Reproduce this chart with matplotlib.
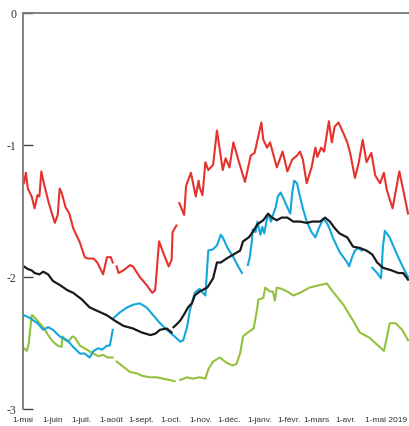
import numpy as np
import matplotlib
matplotlib.use("Agg")
import matplotlib.pyplot as plt
import matplotlib.transforms as mtransforms

nan = np.nan

# days since 1 May 2018 ; nan = gap in the series
month_ticks = [0, 31, 61, 92, 123, 153, 184, 214, 245, 276, 304, 335, 365]
month_labels = ["1-mai", "1-juin", "1-juil.", "1-août", "1-sept.", "1-oct.", "1-nov.",
                "1-déc.", "1-janv.", "1-févr.", "1-mars", "1-avr.", "1-mai 2019"]

red_days = [1, 3, 5, 9, 12, 15, 17, 19, 21, 26, 30, 33, 36, 38, 40, 44, 48, 52, 59, 64, 67, 73,
            77, 83, 87, 91, 93, 95, 97, 99, 104, 111, 114, 121, 128, 134, 137, 141, 145, 151,
            154, 155, 159, 160, 162, 167, 169, 174, 179, 182, 183, 186, 189, 192, 197, 201, 204,
            207, 210, 214, 218, 223, 230, 236, 240, 247, 249, 253, 256, 259, 263, 269, 274, 279,
            284, 287, 290, 294, 299, 303, 305, 309, 312, 317, 320, 323, 327, 332, 336, 339, 344,
            348, 352, 356, 361, 365, 370, 374, 377, 383, 386, 390, 394, 399]
red_vals = [-1.29, -1.21, -1.33, -1.39, -1.48, -1.38, -1.39, -1.20, -1.27, -1.42, -1.52, -1.59,
            -1.53, -1.33, -1.36, -1.47, -1.52, -1.63, -1.74, -1.85, -1.86, -1.86, -1.89, -1.98,
            -1.85, -1.85, -1.89, nan, -1.92, -1.97, -1.95, -1.91, -1.92, -2.00, -2.06, -2.12,
            -2.10, -1.73, -1.81, -1.92, -1.87, -1.66, -1.61, nan, -1.44, -1.53, -1.31, -1.21,
            -1.39, -1.27, -1.32, -1.38, -1.13, -1.19, -1.15, -0.89, -1.04, -1.19, -1.10, -1.17,
            -0.98, -1.11, -1.28, -1.08, -1.06, -0.83, -0.96, -1.02, -0.98, -1.06, -1.17, -1.05,
            -1.20, -1.11, -1.08, -1.05, -1.11, -1.29, -1.17, -1.02, -1.09, -1.02, -1.05, -0.82,
            -0.98, -0.86, -0.83, -0.91, -0.98, -1.06, -1.25, -1.13, -0.96, -1.13, -1.06, -1.23,
            -1.29, -1.21, -1.34, -1.48, -1.36, -1.20, -1.34, -1.52]

black_days = [1, 5, 9, 12, 17, 21, 26, 31, 38, 46, 52, 61, 69, 78, 87, 95, 104, 114, 123, 132,
              137, 142, 149, 154, 155, 156, 159, 163, 168, 171, 175, 178, 183, 191, 197, 201,
              205, 211, 218, 225, 228, 234, 238, 243, 249, 254, 258, 263, 268, 274, 280, 287,
              294, 300, 308, 313, 318, 323, 328, 336, 342, 349, 356, 362, 367, 373, 382, 389,
              394, 399]
black_vals = [-1.92, -1.94, -1.95, -1.97, -1.98, -1.96, -1.98, -2.03, -2.06, -2.10, -2.12,
              -2.17, -2.23, -2.26, -2.29, -2.33, -2.37, -2.39, -2.42, -2.44, -2.43, -2.40,
              -2.39, -2.42, nan, -2.38, -2.36, -2.33, -2.27, -2.23, -2.20, -2.14, -2.11, -2.08,
              -2.01, -1.89, -1.89, -1.86, -1.83, -1.80, -1.73, -1.70, -1.66, -1.60, -1.57,
              -1.52, -1.55, -1.57, -1.55, -1.55, -1.58, -1.58, -1.59, -1.58, -1.58, -1.55,
              -1.58, -1.63, -1.67, -1.70, -1.77, -1.78, -1.80, -1.83, -1.89, -1.93, -1.95,
              -1.97, -1.97, -2.02]

cyan_days = [1, 7, 15, 21, 26, 31, 38, 46, 52, 59, 64, 69, 73, 78, 82, 87, 90, 93, 93.5, 94,
             100, 108, 114, 121, 128, 135, 142, 149, 157, 163, 166, 170, 173, 178, 183, 185,
             189, 192, 197, 201, 205, 207, 212, 218, 223, 227, 230, 233, 235, 237, 238, 241,
             243, 246, 248, 250, 253, 254, 257, 259, 262, 264, 267, 269, 272, 275, 277, 279,
             281, 284, 286, 290, 294, 299, 303, 306, 311, 315, 318, 321, 328, 336, 338, 341,
             344, 347, 351, 356, 362, 367, 371, 373, 375, 380, 387, 394, 399]
cyan_vals = [-2.29, -2.31, -2.35, -2.40, -2.38, -2.40, -2.45, -2.48, -2.53, -2.58, -2.58,
             -2.61, -2.56, -2.54, -2.55, -2.52, -2.52, -2.40, nan, -2.31, -2.27, -2.23, -2.21,
             -2.20, -2.23, -2.29, -2.35, -2.40, -2.45, -2.49, -2.48, -2.38, -2.25, -2.12,
             -2.09, -2.11, -2.14, -1.80, -1.79, -1.76, -1.68, -1.70, -1.78, -1.85, -1.92,
             -1.97, nan, -1.91, -1.85, -1.74, -1.64, -1.66, -1.58, -1.68, -1.62, -1.67, -1.55,
             -1.53, -1.58, -1.53, -1.47, -1.39, -1.36, -1.39, -1.44, -1.49, -1.52, -1.36,
             -1.27, -1.29, -1.36, -1.48, -1.58, -1.66, -1.70, -1.64, -1.56, -1.59, -1.64,
             -1.70, -1.81, -1.89, -1.92, -1.85, -1.80, -1.78, -1.80, nan, -1.93, -1.97, -2.01,
             -1.77, -1.65, -1.70, -1.82, -1.93, -2.00]

green_days = [1, 4, 6, 9, 10, 16, 21, 26, 31, 36, 40, 41, 44, 47, 51, 54, 59, 66, 73, 78, 83,
              88, 93, 95, 97, 104, 111, 118, 124, 132, 139, 145, 152, 157, 160, 163, 170, 176,
              183, 189, 192, 197, 204, 211, 217, 221, 225, 228, 233, 239, 242, 244, 249, 251,
              256, 259, 261, 263, 268, 274, 280, 287, 297, 308, 315, 321, 332, 342, 349, 359,
              368, 374, 377, 380, 386, 393, 399]
green_vals = [-2.54, -2.56, -2.50, -2.29, -2.29, -2.34, -2.38, -2.44, -2.49, -2.52, -2.53,
              -2.45, -2.48, -2.49, -2.45, -2.46, -2.52, -2.55, -2.58, -2.60, -2.59, -2.61,
              -2.61, nan, -2.64, -2.68, -2.72, -2.73, -2.75, -2.76, -2.76, -2.77, -2.78, -2.79,
              nan, -2.78, -2.76, -2.77, -2.76, -2.77, -2.70, -2.64, -2.61, -2.65, -2.67, -2.66,
              -2.58, -2.45, -2.42, -2.39, -2.27, -2.17, -2.16, -2.08, -2.11, -2.11, -2.18,
              -2.08, -2.09, -2.11, -2.14, -2.12, -2.08, -2.06, -2.05, -2.11, -2.21, -2.33,
              -2.42, -2.46, -2.52, -2.56, -2.46, -2.35, -2.35, -2.40, -2.48]

RED = "#e5322d"
CYAN = "#12a7dc"
BLACK = "#1a1a1a"
GREEN = "#94c13d"

fig = plt.figure(figsize=(4.09, 4.26), dpi=100)
ax = fig.add_axes([23 / 409, 1 - 409 / 426, 1 - 23 / 409, (409 - 13) / 426])

ax.plot(green_days, green_vals, color=GREEN, lw=1.5)
ax.plot(red_days, red_vals, color=RED, lw=1.5)
ax.plot(cyan_days, cyan_vals, color=CYAN, lw=1.5)
ax.plot(black_days, black_vals, color=BLACK, lw=1.6)

ax.set_xlim(0, 400)
ax.set_ylim(-3, 0)

# axes styling
for s in ["right", "bottom"]:
    ax.spines[s].set_visible(False)
ax.spines["left"].set_color("#777777")
ax.spines["left"].set_linewidth(1.3)
ax.spines["top"].set_color("#777777")
ax.spines["top"].set_linewidth(1.3)

ax.set_yticks([0, -1, -2, -3])
ax.set_yticklabels(["0", "-1", "-2", "-3"], family="Liberation Serif", fontsize=8.5,
                   color="#333333")
ax.tick_params(axis="y", direction="in", length=7, width=1, color="#444444", pad=5)

ax.set_xticks(month_ticks)
ax.set_xticklabels(month_labels, family="Liberation Sans", fontsize=6.0, color="#333333")
ax.tick_params(axis="x", length=0, pad=6)

# last label sits a bit to the right, running off the edge as in the original
last = ax.get_xticklabels()[-1]
last.set_transform(last.get_transform() +
                   mtransforms.ScaledTranslation(8 / 72, 0, fig.dpi_scale_trans))

fig.savefig("out.png", dpi=100)
